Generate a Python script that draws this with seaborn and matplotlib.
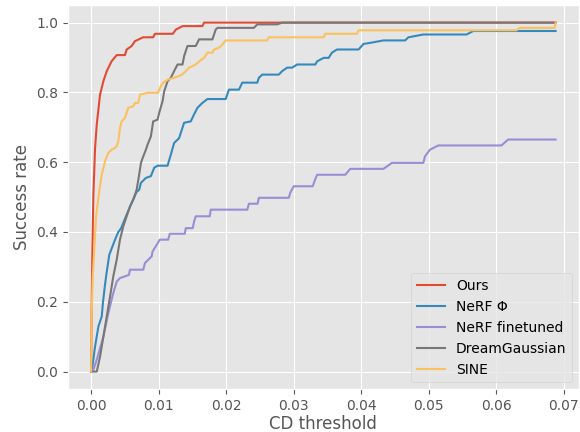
import matplotlib
matplotlib.use("Agg")
import matplotlib.pyplot as plt
import seaborn as sns
import pandas as pd

# CD threshold / success rate points
ours_x = [0.0, 0.00004, 0.0001, 0.00019, 0.00034, 0.00059, 0.00084, 0.00133, 0.00182, 0.00232,
          0.00306, 0.0038, 0.00502, 0.00527, 0.00601, 0.0065, 0.00773, 0.0092, 0.00945, 0.01211,
          0.01256, 0.01355, 0.0165, 0.01674, 0.06883]
ours_y = [0.0, 0.091, 0.206, 0.349, 0.507, 0.641, 0.708, 0.794, 0.832, 0.861,
          0.890, 0.907, 0.907, 0.923, 0.933, 0.947, 0.958, 0.958, 0.968, 0.968,
          0.980, 0.990, 0.990, 1.0, 1.0]

nerf_x = [0.0, 0.0001, 0.00059, 0.00108, 0.00158, 0.00177, 0.00207, 0.00229, 0.0027, 0.00355,
          0.00403, 0.00443, 0.00477, 0.00527, 0.00601, 0.00675, 0.00713, 0.00739, 0.00812, 0.00886,
          0.00935, 0.00985, 0.01133, 0.01182, 0.0123, 0.01304, 0.01378, 0.01477, 0.01526, 0.01576,
          0.0165, 0.01724, 0.01994, 0.02043, 0.02191, 0.0224, 0.02462, 0.02486, 0.02536, 0.02781,
          0.02831, 0.02905, 0.02979, 0.03053, 0.03323, 0.03348, 0.03446, 0.0352, 0.03569, 0.03643,
          0.03963, 0.04037, 0.04136, 0.04332, 0.04653, 0.04702, 0.04923, 0.05564, 0.05662, 0.06883]
nerf_y = [0.0, 0.0, 0.072, 0.129, 0.158, 0.2, 0.25, 0.282, 0.335, 0.378,
          0.40, 0.41, 0.426, 0.45, 0.483, 0.515, 0.521, 0.541, 0.555, 0.56,
          0.584, 0.59, 0.59, 0.622, 0.655, 0.669, 0.713, 0.717, 0.737, 0.756,
          0.770, 0.781, 0.781, 0.808, 0.808, 0.828, 0.828, 0.842, 0.851, 0.851,
          0.861, 0.871, 0.871, 0.880, 0.880, 0.889, 0.899, 0.899, 0.914, 0.923,
          0.923, 0.939, 0.942, 0.949, 0.949, 0.958, 0.966, 0.966, 0.976, 0.976]

ft_x = [0.0, 0.00034, 0.00084, 0.00182, 0.00256, 0.00329, 0.0038, 0.00428, 0.00561, 0.00576,
        0.00773, 0.00798, 0.00897, 0.00911, 0.01019, 0.01142, 0.01167, 0.01388, 0.01403, 0.01507,
        0.01526, 0.01551, 0.01758, 0.01773, 0.02315, 0.02338, 0.02467, 0.02486, 0.02929, 0.02954,
        0.03003, 0.03284, 0.03313, 0.03349, 0.03767, 0.0384, 0.04332, 0.04456, 0.04923, 0.04948,
        0.05022, 0.05145, 0.06081, 0.06179, 0.06883]
ft_y = [0.0, 0.005, 0.034, 0.100, 0.168, 0.225, 0.258, 0.268, 0.277, 0.292,
        0.292, 0.311, 0.330, 0.344, 0.378, 0.378, 0.395, 0.395, 0.411, 0.411,
        0.430, 0.445, 0.445, 0.464, 0.464, 0.481, 0.481, 0.498, 0.498, 0.514,
        0.531, 0.531, 0.547, 0.564, 0.564, 0.581, 0.581, 0.598, 0.598, 0.617,
        0.636, 0.648, 0.648, 0.665, 0.665]

dg_x = [0.0, 0.00084, 0.00133, 0.00182, 0.00232, 0.00281, 0.00329, 0.0038, 0.00428, 0.00477,
        0.00527, 0.00576, 0.00625, 0.00675, 0.00709, 0.00739, 0.00764, 0.00812, 0.00838, 0.00886,
        0.0092, 0.00985, 0.01009, 0.01059, 0.01083, 0.01133, 0.01182, 0.0123, 0.01281, 0.01355,
        0.01378, 0.01428, 0.01551, 0.016, 0.01798, 0.01846, 0.01872, 0.02412, 0.02462, 0.02758,
        0.02831, 0.06883]
dg_y = [0.0, 0.0, 0.043, 0.100, 0.158, 0.215, 0.273, 0.321, 0.378, 0.416,
        0.445, 0.473, 0.493, 0.521, 0.56, 0.598, 0.612, 0.636, 0.651, 0.674,
        0.717, 0.722, 0.741, 0.775, 0.803, 0.832, 0.842, 0.861, 0.880, 0.880,
        0.904, 0.933, 0.933, 0.952, 0.952, 0.980, 0.985, 0.985, 0.995, 0.995,
        1.0, 1.0]

sine_x = [0.0, 0.00007, 0.00025, 0.00074, 0.00123, 0.00158, 0.00207, 0.00256, 0.00306, 0.00355,
          0.0038, 0.00403, 0.00428, 0.00453, 0.00502, 0.00551, 0.00625, 0.0065, 0.00699, 0.00724,
          0.00846, 0.0099, 0.01034, 0.01068, 0.01142, 0.0123, 0.01304, 0.01355, 0.01403, 0.01452,
          0.01502, 0.01551, 0.016, 0.01674, 0.01724, 0.01798, 0.01821, 0.01895, 0.01945, 0.01994,
          0.0261, 0.02634, 0.03446, 0.03471, 0.0394, 0.03963, 0.06303, 0.06352, 0.06869, 0.06883]
sine_y = [0.0, 0.158, 0.273, 0.445, 0.52, 0.564, 0.603, 0.627, 0.636, 0.641,
          0.646, 0.66, 0.698, 0.717, 0.727, 0.756, 0.760, 0.770, 0.770, 0.794,
          0.799, 0.799, 0.818, 0.828, 0.837, 0.842, 0.847, 0.852, 0.861, 0.871,
          0.875, 0.880, 0.889, 0.899, 0.914, 0.914, 0.923, 0.928, 0.937, 0.949,
          0.949, 0.958, 0.958, 0.968, 0.968, 0.978, 0.978, 0.985, 0.985, 1.0]

methods = ["Ours", "NeRF Φ", "NeRF finetuned", "DreamGaussian", "SINE"]
colors = ["#E24A33", "#348ABD", "#988ED5", "#777777", "#FBC15E"]

series = {
    "Ours": (ours_x, ours_y),
    "NeRF Φ": (nerf_x, nerf_y),
    "NeRF finetuned": (ft_x, ft_y),
    "DreamGaussian": (dg_x, dg_y),
    "SINE": (sine_x, sine_y),
}

rows = []
for m in methods:
    xs, ys = series[m]
    for xv, yv in zip(xs, ys):
        rows.append({"CD threshold": xv, "Success rate": yv, "method": m})
df = pd.DataFrame(rows)

plt.style.use("ggplot")
fig = plt.figure(figsize=(5.8, 4.32), dpi=100)
ax = fig.add_axes([0.117, 0.0995, 0.881, 0.8885])

sns.lineplot(data=df, x="CD threshold", y="Success rate", hue="method",
             hue_order=methods, palette=colors, estimator=None, sort=False,
             linewidth=1.5, ax=ax)

ax.set_xticks([0.0, 0.01, 0.02, 0.03, 0.04, 0.05, 0.06, 0.07])
ax.set_yticks([0.0, 0.2, 0.4, 0.6, 0.8, 1.0])
ax.set_xlabel("CD threshold", labelpad=1.5)
ax.set_ylabel("Success rate")
ax.legend(loc="lower right", title=None)

fig.savefig("out.png", dpi=100)
